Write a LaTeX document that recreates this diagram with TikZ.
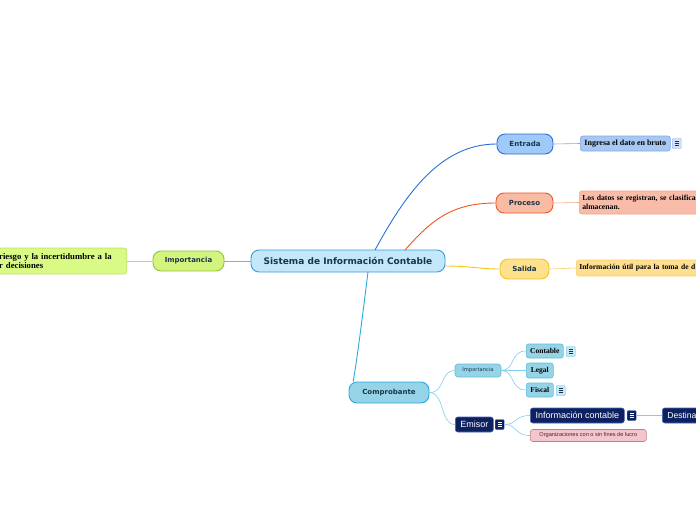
\documentclass[tikz,border=0pt]{standalone}
\usepackage{fontspec}
\newfontfamily\vsans{DejaVu Sans}
\newfontfamily\asans{Liberation Sans}
\newfontfamily\tserif{Liberation Serif}
\definecolor{txt}{HTML}{17364A}
\definecolor{cenF}{HTML}{C4E7FA}\definecolor{cenD}{HTML}{3A9AD9}
\definecolor{grnF}{HTML}{D5F47E}\definecolor{grnD}{HTML}{8CC63E}
\definecolor{lgrF}{HTML}{D9FB85}\definecolor{lgrD}{HTML}{B9E25E}
\definecolor{bluF}{HTML}{9EC9F9}\definecolor{bluD}{HTML}{2A6FD6}
\definecolor{blLF}{HTML}{A8C8F4}\definecolor{blLD}{HTML}{7FA9E8}
\definecolor{redF}{HTML}{F8BBA3}\definecolor{redD}{HTML}{F05522}
\definecolor{reLF}{HTML}{F9BCA8}\definecolor{reLD}{HTML}{F3A58A}
\definecolor{yelF}{HTML}{FDE18D}\definecolor{yelD}{HTML}{F7C31A}
\definecolor{yeLF}{HTML}{FDDF8F}\definecolor{yeLD}{HTML}{F8CD6A}
\definecolor{cyaF}{HTML}{96D3E7}\definecolor{cyaD}{HTML}{2AA9DE}
\definecolor{cyLD}{HTML}{5BBDE2}\definecolor{cyLine}{HTML}{7FCCEB}
\definecolor{navF}{HTML}{0D2160}\definecolor{navD}{HTML}{4A67B5}
\definecolor{pnkF}{HTML}{F3C6CD}\definecolor{pnkD}{HTML}{C17E8A}\definecolor{pnkT}{HTML}{5A1A2A}
\colorlet{iconline}{txt}
\tikzset{
  topic/.style={draw, line width=0.9pt, rounded corners=8pt, inner sep=0pt, font=\vsans\bfseries\fontsize{7}{8}\selectfont, text=txt},
  leafbox/.style={draw, line width=0.6pt, rounded corners=2.5pt, inner xsep=3pt, inner ysep=0pt, font=\tserif\bfseries\fontsize{8}{9}\selectfont, text=black, align=left},
  icon/.style={draw=#1, fill=#1!35, line width=0.4pt, rounded corners=1pt, minimum width=9pt, minimum height=10pt, inner sep=0pt,
    path picture={\foreach \yy in {-1.8,0,1.8}{\draw[line width=0.7pt, draw=iconline] ([xshift=2.3pt,yshift=\yy pt]path picture bounding box.west) -- ([xshift=-2.3pt,yshift=\yy pt]path picture bounding box.east);}}},
}
\begin{document}
\begin{tikzpicture}[x=1pt,y=-1pt]
\useasboundingbox (0,0) rectangle (696,520);
\coordinate (cE) at (375,250);
\coordinate (cP) at (405,250);
\coordinate (cS) at (445,266);
\coordinate (cC) at (368,272);
% nodes
\node[topic, draw=cenD, fill=cenF, minimum width=194pt, minimum height=22pt, font=\vsans\bfseries\fontsize{9}{9}\selectfont] (cen) at (348,261) {Sistema de Información Contable};
\node[topic, draw=grnD, fill=grnF, minimum width=71pt, minimum height=20pt] (imp) at (188.5,261) {Importancia};
\node[leafbox, draw=lgrD, fill=lgrF, minimum height=26pt, anchor=east, inner xsep=0pt, text width=128pt, font=\tserif\bfseries\fontsize{8.7}{9.5}\selectfont] (impL) at (127,261) {\hspace*{0.5pt}riesgo y la incertidumbre a la\\\hspace*{0.5pt}r decisiones};
\node[topic, draw=bluD, fill=bluF, minimum width=56pt, minimum height=20pt] (ent) at (525,144) {Entrada};
\node[leafbox, draw=blLD, fill=blLF, minimum height=15pt, minimum width=90pt, anchor=west] (entL) at (580,143.5) {Ingresa el dato en bruto};
\node[icon=blLD, anchor=west] (entI) at (672,143.5) {};
\node[topic, draw=redD, fill=redF, minimum width=57pt, minimum height=20pt] (pro) at (524.5,203) {Proceso};
\node[leafbox, draw=reLD, fill=reLF, minimum height=23pt, minimum width=130pt, anchor=west, text width=125pt, font=\tserif\bfseries\fontsize{7.7}{9}\selectfont] (proL) at (579,202.5) {Los datos se registran, se clasifica\\almacenan.};
\node[topic, draw=yelD, fill=yelF, minimum width=49pt, minimum height=20pt] (sal) at (524.5,269) {Salida};
\node[leafbox, draw=yeLD, fill=yeLF, minimum height=16pt, minimum width=130pt, anchor=west, text width=125pt, font=\tserif\bfseries\fontsize{7.6}{9}\selectfont] (salL) at (576,268) {Información útil para la toma de d};
\node[topic, draw=cyaD, fill=cyaF, minimum width=80pt, minimum height=21pt] (com) at (389,392.5) {Comprobante};
\node[topic, draw=cyLD, fill=cyaF, line width=0.6pt, rounded corners=3pt, minimum width=46pt, minimum height=13pt, font=\vsans\fontsize{5.2}{6}\selectfont] (imp2) at (478,370.5) {Importancia};
\node[leafbox, draw=cyLD, fill=cyaF, minimum height=14pt, minimum width=37pt, anchor=west, font=\tserif\bfseries\fontsize{7.5}{8}\selectfont] (cont) at (526,351) {Contable};
\node[icon=cyLD, anchor=west] (contI) at (566,351.5) {};
\node[leafbox, draw=cyLD, fill=cyaF, minimum height=15pt, minimum width=27pt, anchor=west, font=\tserif\bfseries\fontsize{7.5}{8}\selectfont] (leg) at (526,370.5) {Legal};
\node[leafbox, draw=cyLD, fill=cyaF, minimum height=14pt, minimum width=27pt, anchor=west, font=\tserif\bfseries\fontsize{7.5}{8}\selectfont] (fis) at (526,390) {Fiscal};
\node[icon=cyLD, anchor=west] (fisI) at (556,390.5) {};
\node[leafbox, draw=navD, fill=navF, minimum height=15pt, minimum width=38pt, anchor=west, text=white, font=\asans\fontsize{9}{9}\selectfont] (emi) at (455,424.5) {Emisor};
\colorlet{iconline}{white}
\node[icon=navD, fill=navF, anchor=west] (emiI) at (495,424.5) {};
\node[leafbox, draw=navD, fill=navF, minimum height=15pt, minimum width=94pt, anchor=west, text=white, font=\asans\fontsize{9}{9}\selectfont] (inf) at (530,415.5) {Información contable};
\node[icon=navD, fill=navF, anchor=west] (infI) at (627,415.5) {};
\node[leafbox, draw=navD, fill=navF, minimum height=15pt, minimum width=50pt, anchor=west, text=white, font=\asans\fontsize{8.6}{9}\selectfont, inner xsep=4.5pt, text width=40pt] (des) at (662,415.5) {Destina};
\node[leafbox, draw=pnkD, fill=pnkF, minimum height=12pt, minimum width=116pt, anchor=west, text=pnkT, align=center, font=\asans\fontsize{5.6}{6}\selectfont] (org) at (530,435.5) {Organizaciones con o sin fines de lucro};
% connectors
\draw[line width=0.9pt, draw=grnD] (cen.west) -- (imp.east);
\draw[line width=0.6pt, draw=lgrD] (imp.west) -- (impL.east);
\draw[line width=0.9pt, draw=bluD] (cE) .. controls (405,195) and (440,144) .. (ent.west);
\draw[line width=0.9pt, draw=redD] (cP) .. controls (430,222) and (450,203) .. (pro.west);
\draw[line width=0.9pt, draw=yelD] (cS) .. controls (470,266) and (480,269) .. (sal.west);
\draw[line width=0.9pt, draw=cyaD] (cC) .. controls (362,320) and (357,360) .. (com.163);
\draw[line width=0.6pt, draw=blLD] (ent.east) -- (entL.west);
\draw[line width=0.6pt, draw=reLD] (pro.east) -- (proL.west);
\draw[line width=0.6pt, draw=yeLD] (sal.east) -- (salL.west);
\draw[line width=0.6pt, draw=cyLine] (com.east) .. controls (445,393) and (440,370.5) .. (imp2.west);
\draw[line width=0.6pt, draw=cyLine] (com.east) .. controls (445,393) and (440,424.5) .. (emi.west);
\draw[line width=0.6pt, draw=cyLine] (imp2.east) .. controls (515,370.5) and (510,351) .. (cont.west);
\draw[line width=0.6pt, draw=cyLine] (imp2.east) -- (leg.west);
\draw[line width=0.6pt, draw=cyLine] (imp2.east) .. controls (515,370.5) and (510,390) .. (fis.west);
\draw[line width=0.6pt, draw=cyLine] (emiI.east) .. controls (518,424.5) and (514,415.5) .. (inf.west);
\draw[line width=0.6pt, draw=cyLine] (emiI.east) .. controls (518,424.5) and (514,435.5) .. (org.west);
\draw[line width=0.6pt, draw=cyLine] (infI.east) -- (des.west);
\end{tikzpicture}
\end{document}
